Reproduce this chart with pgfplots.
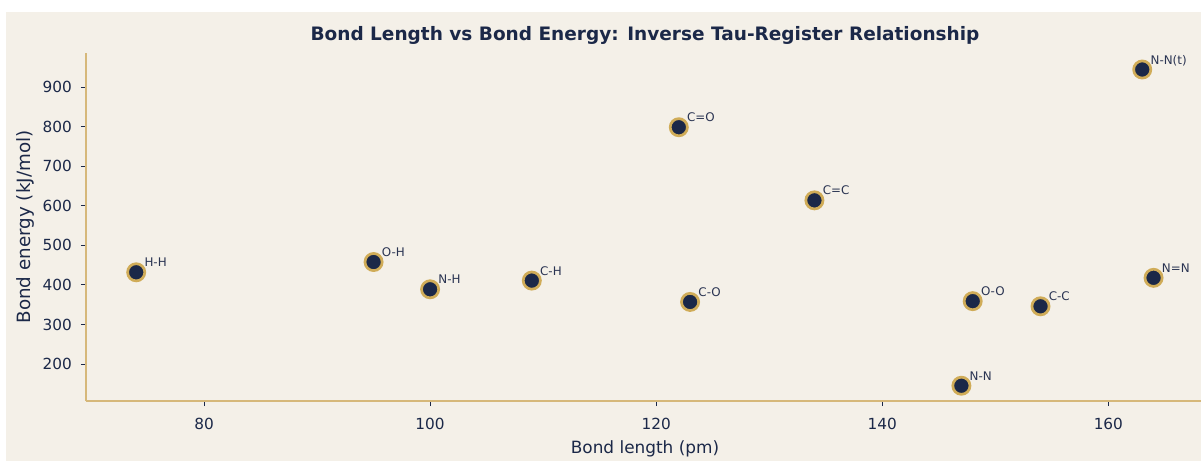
\documentclass[border=0pt]{standalone}
\usepackage{fontspec}
\setmainfont{DejaVu Sans}
\usepackage{pgfplots}
\pgfplotsset{compat=1.18}
\definecolor{bgbeige}{RGB}{244,240,232}
\definecolor{navy}{RGB}{27,40,72}
\definecolor{lblnavy}{RGB}{42,52,82}
\definecolor{ringgold}{RGB}{208,172,88}
\definecolor{spinegold}{RGB}{214,184,122}
\begin{document}
\begin{tikzpicture}[x=1pt,y=1pt]
\useasboundingbox (0,0) rectangle (1201,461);
\fill[white] (0,0) rectangle (1201,461);
\fill[bgbeige] (6,0) rectangle (1201,449);
\begin{axis}[
  at={(86pt,60pt)}, anchor=south west,
  width=1115pt, height=348pt, scale only axis,
  xmin=69.56, xmax=168.2, ymin=106.4, ymax=986.8,
  axis x line*=bottom, axis y line*=left,
  axis line style={spinegold, line width=1.4pt, -},
  xtick={80,100,120,140,160},
  ytick={200,300,400,500,600,700,800,900},
  tick align=outside, major tick length=5pt,
  tick style={navy, line width=0.9pt},
  /pgf/number format/assume math mode=true,
  /pgf/number format/1000 sep={},
  xticklabel style={font=\fontsize{15.3}{18}\selectfont, text=navy, inner sep=0pt, anchor=north, yshift=-12pt},
  yticklabel style={font=\fontsize{15.3}{18}\selectfont, text=navy, inner sep=0pt, anchor=east, xshift=-9pt},
  xlabel={Bond length (pm)},
  ylabel={Bond energy (kJ/mol)},
  xlabel style={font=\fontsize{16.9}{20}\selectfont, text=navy, inner sep=0pt, at={(axis description cs:0.5,0)}, anchor=base, yshift=-52pt, xshift=1.5pt},
  ylabel style={font=\fontsize{18.3}{22}\selectfont, text=navy, inner sep=0pt, at={(axis description cs:-0.0547,0.5)}, anchor=center},
  title={Bond Length vs Bond Energy: Inverse Tau-Register Relationship},
  title style={font=\fontsize{18.5}{22}\selectfont\bfseries, text=navy, inner sep=0pt, at={(axis description cs:0.5,1)}, anchor=base, yshift=6.3pt, xshift=1.5pt},
  clip=false,
]
\addplot[only marks, mark=*, mark size=8.6pt,
  mark options={draw=ringgold, fill=navy, line width=2.7pt},
  nodes near coords, point meta=explicit symbolic,
  nodes near coords style={anchor=base west, inner sep=0pt, xshift=7pt, yshift=5.5pt,
    font=\fontsize{11.9}{14}\selectfont, text=lblnavy}]
  table[x=len, y=en, meta=label] {
len en label
74 432 H-H
95 458 O-H
100 389 N-H
109 411 C-H
122 799 C=O
123 357 C-O
134 614 C=C
148 359 O-O
147 145 N-N
154 346 C-C
163 945 N-N(t)
164 418 N=N
};
\end{axis}
\end{tikzpicture}
\end{document}
